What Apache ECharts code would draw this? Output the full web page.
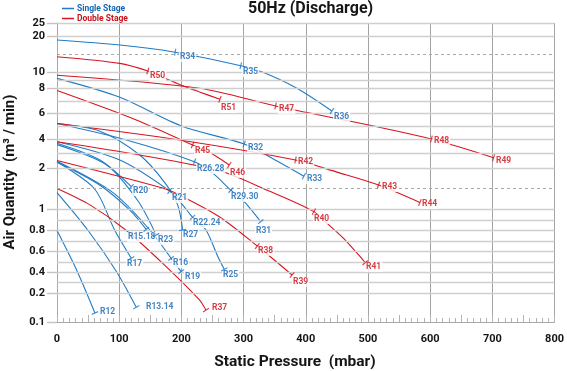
<!DOCTYPE html>
<html><head><meta charset="utf-8">
<script src="https://cdn.jsdelivr.net/npm/echarts@6/dist/echarts.min.js"></script>
<style>html,body{margin:0;padding:0;background:#fff}#c{width:567px;height:371px}</style>
</head><body><div id="c"></div>
<script>
// ---- Y axis ruling (the chart uses a hand-ruled, non-uniform quantity scale) ----
const Y_RULE_VALUES = [0.1,0.2,0.3,0.4,0.5,0.6,0.7,0.8,0.9,1,1.5,2,3,4,5,6,7,8,9,10,15,20,25];
const Y_RULE_UNITS  = [0,29,39.5,49.5,60,70.5,81,91.5,102,113,133.5,154,169,183,196,208.5,221,234,242,250,268,286,299];
const Y_LABEL_VALUES = [0.1,0.2,0.4,0.6,0.8,1,2,4,6,8,10,20,25];
const Y_DASHED_VALUES = [1.5,15];
const X_MIN = 0, X_MAX = 800, X_STEP = 100;

// ---- Single stage (blue) curves: [pressure mbar, air m3/min] ----
const S_R34_R36 = [[0,18.9],[101,17.5],[190,15.5],[295.5,11.75],[330,10.0],[385,8.0],[442,6.2]];
const S_R32_R33 = [[0,9.2],[100,7.3],[200,5.0],[301,3.64],[350,2.55],[397,1.8]];
const S_R26_R31 = [[0,5.2],[110,3.95],[221,2.42],[250,1.88],[279.5,1.46],[301,1.18],[327.5,0.884]];
const S_R27     = [[0,5.2],[69,4.6],[133,2.87],[173,1.65],[194,1.1],[202,0.805]];
const S_R21_R25 = [[0,3.8],[101,2.53],[181,1.44],[202,1.1],[218,0.925],[239.5,0.805],[258,0.56],[269,0.43]];
const S_R20     = [[0,3.7],[69,2.53],[119.5,1.544]];
const S_R15     = [[0,2.4],[69,1.58],[117,0.99],[143.5,0.811]];
const S_R23     = [[0,3.6],[80,2.2],[130,1.2],[159.5,0.757]];
const S_R16_R19 = [[0,2.45],[90,1.4],[150,0.8],[183.5,0.535],[199.5,0.408]];
const S_R17     = [[0,2.4],[60,1.5],[93,0.8],[119.5,0.535]];
const S_R13     = [[0,1.4],[50,0.8],[95.5,0.41],[127.5,0.151]];
const S_R12     = [[0,0.8],[31.5,0.424],[61,0.131]];

// ---- Double stage (red) curves ----
const D_R50_R51 = [[0,14.25],[101,12.4],[146,10.3],[173,9.25],[196,8.48],[229,7.7],[262,7.13]];
const D_R47_R49 = [[0,9.6],[229,7.98],[351.5,6.6],[501,5.08],[602,4.0],[702,2.69]];
const D_R45_R46 = [[0,7.8],[127.5,5.48],[218,3.57],[245,3.05],[277,2.2]];
const D_R42_R44 = [[0,5.2],[197,3.93],[383.5,2.53],[450,1.9],[517,1.585],[583.5,1.16]];
const D_R40_R41 = [[0,3.8],[133,2.87],[263.5,1.92],[339,1.45],[413,0.976],[434,0.87],[460,0.73],[485,0.567],[495.5,0.493]];
const D_R38_R39 = [[0,2.5],[170,1.51],[197,1.34],[261,0.93],[322,0.652],[378,0.375]];
const D_R37     = [[0,1.5],[53,1.1],[111.5,0.8],[173,0.47],[229,0.176],[239.5,0.141]];

// which point of each curve carries a model label
const SINGLE = [
  [S_R34_R36, {2:'R34',3:'R35',6:'R36'}],
  [S_R32_R33, {3:'R32',5:'R33'}],
  [S_R26_R31, {2:'R26.28',4:'R29.30',6:'R31'}],
  [S_R27, {5:'R27'}],
  [S_R21_R25, {2:'R21',4:'R22.24',7:'R25'}],
  [S_R20, {2:'R20'}],
  [S_R15, {3:'R15.18'}],
  [S_R23, {3:'R23'}],
  [S_R16_R19, {3:'R16',4:'R19'}],
  [S_R17, {3:'R17'}],
  [S_R13, {3:'R13.14'}],
  [S_R12, {2:'R12'}]
];
const DOUBLE = [
  [D_R50_R51, {2:'R50',6:'R51'}],
  [D_R47_R49, {2:'R47',4:'R48',5:'R49'}],
  [D_R45_R46, {2:'R45',4:'R46'}],
  [D_R42_R44, {2:'R42',4:'R43',5:'R44'}],
  [D_R40_R41, {4:'R40',8:'R41'}],
  [D_R38_R39, {4:'R38',5:'R39'}],
  [D_R37, {5:'R37'}]
];

// label placement tweaks (text left offset, vertical offset) in px
const LABEL_SHIFT = {
  R34:[4,5],R35:[2,6],R36:[2,6],R50:[2,5],R51:[1,9],R47:[3,3],R48:[2,2],R49:[2,3],
  R32:[3,4],R42:[2,2],R33:[3,3],R45:[2,6],R46:[0,8],'R26.28':[2,7],'R29.30':[0,7],
  R40:[0,7],R31:[-5,9],R20:[1,4],R21:[2,7],'R22.24':[0,6],'R15.18':[-19,8],R23:[1,5],
  R27:[0,5],R17:[-5,6],R16:[1,5],R19:[3,5],R25:[-2,6],R38:[0,5],R39:[0,7],R41:[0,4],
  R43:[3,2],R44:[2,2],R37:[6,-2],R12:[5,-1],'R13.14':[9,0]
};

const BLUE = '#1f7bc6', BLUE_TXT = '#1565b4';
const RED = '#d8141e', RED_TXT = '#c90f18';
const FONT = 'Roboto';

function toU(q){
  const v = Y_RULE_VALUES, u = Y_RULE_UNITS;
  if (q <= v[0]) return u[0];
  for (let i=1;i<v.length;i++){
    if (q <= v[i]) return u[i-1] + (q-v[i-1])/(v[i]-v[i-1])*(u[i]-u[i-1]);
  }
  return u[u.length-1];
}
function labelOf(u){
  let best = 0, d = 1e9;
  Y_RULE_UNITS.forEach((x,i)=>{ if (Math.abs(x-u)<d){d=Math.abs(x-u);best=i;} });
  return String(Y_RULE_VALUES[best]);
}

const chart = echarts.init(document.getElementById('c'), null, {renderer:'canvas'});

function buildSeries(geom){
  const series = [];
  series.push({
    type:'line', data:[], z:1, silent:true,
    markLine:{
      silent:true, symbol:['none','none'], label:{show:false}, animation:false,
      lineStyle:{color:'#cfcfcf', width:1.4, type:'solid'},
      data: Y_RULE_VALUES.filter(v=>v>0.1).map(v=>{
        const dashed = Y_DASHED_VALUES.indexOf(v) >= 0;
        return {yAxis: toU(v), lineStyle: dashed ? {type:[3,3], color:'#a9a9a9', width:1} : {}};
      })
    }
  });
  let k = 0;
  const groups = [[SINGLE,'Single Stage',BLUE,BLUE_TXT],[DOUBLE,'Double Stage',RED,RED_TXT]];
  const labelSeries = [];
  groups.forEach(([curves,name,col,txt])=>{
    const labels = [], ticks = [];
    curves.forEach(([pts,marks])=>{
      series.push({
        type:'line', name, data: pts.map(p=>[p[0], toU(p[1])]),
        smooth:0.3, showSymbol:false, symbol:'none',
        lineStyle:{color:col, width:1.1}, itemStyle:{color:col}, z:2, silent:true
      });
      Object.keys(marks).forEach(idx=>{
        const i = +idx, p = pts[i], lab = marks[idx];
        const sh = LABEL_SHIFT[lab] || [2,5];
        const g = geom ? geom[k] : null;
        labels.push({value:[p[0], toU(p[1])], name:lab,
          label:{offset: g ? g.off : [sh[0]-1, sh[1]]}});
        ticks.push({value:[p[0], toU(p[1])], symbolRotate: g ? g.rot : 0});
        k++;
      });
    });
    labelSeries.push({
      type:'scatter', name, data:labels, z:8, zlevel:1, silent:true,
      symbol:'circle', symbolSize:1, itemStyle:{color:'rgba(0,0,0,0)'},
      label:{show:true, position:'right', distance:0, formatter:p=>p.name,
        color:txt, fontFamily:FONT, fontWeight:'bold', fontSize:8.5,
        backgroundColor:'#fff', padding:[0,1,0,1], lineHeight:10}
    });
    labelSeries.push({
      type:'scatter', name, data:ticks, z:9, zlevel:1, silent:true,
      symbol:'rect', symbolSize:[1.2,7], itemStyle:{color:col}
    });
  });
  return series.concat(labelSeries);
}

const option = {
  animation:false,
  backgroundColor:'#fff',
  title:{text:'50Hz (Discharge)', left:248, top:1, padding:0,
    textStyle:{fontFamily:FONT, fontWeight:'bold', fontSize:16, color:'#151515'}},
  legend:{orient:'vertical', left:57, top:-1, itemGap:1, itemWidth:12, itemHeight:1.5,
    selectedMode:false,
    data:[
      {name:'Single Stage', icon:'rect', itemStyle:{color:BLUE}, textStyle:{color:BLUE_TXT}},
      {name:'Double Stage', icon:'rect', itemStyle:{color:RED}, textStyle:{color:RED_TXT}}
    ],
    textStyle:{fontFamily:FONT, fontWeight:'bold', fontSize:8.5, padding:[0,0,0,-2]}
  },
  grid:{left:57, right:10, top:23, bottom:49, containLabel:false},
  xAxis:[
    {type:'value', min:X_MIN, max:X_MAX, interval:X_STEP,
      axisLine:{lineStyle:{color:'#a8a8a8', width:1}},
      axisTick:{show:false},
      axisLabel:{fontFamily:FONT, fontWeight:'bold', fontSize:11, color:'#151515', margin:12},
      splitLine:{show:true, lineStyle:{color:'#a3a3a3', width:1}}},
    {type:'value', min:X_MIN, max:X_MAX, interval:X_STEP/2, position:'bottom',
      axisLine:{show:false}, axisLabel:{show:false}, splitLine:{show:false},
      axisTick:{show:true, inside:true, length:7, lineStyle:{color:'#b3b3b3'}},
      minorTick:{show:true, splitNumber:5, length:4, lineStyle:{color:'#b3b3b3'}}}
  ],
  yAxis:{type:'value', min:0, max:Y_RULE_UNITS[Y_RULE_UNITS.length-1],
    axisLine:{show:true, lineStyle:{color:'#a8a8a8', width:1}},
    axisTick:{show:true, length:10, customValues:Y_LABEL_VALUES.map(toU), lineStyle:{color:'#c4c4c4', width:1.4}},
    axisLabel:{customValues:Y_LABEL_VALUES.map(toU), formatter:labelOf,
      fontFamily:FONT, fontWeight:'bold', fontSize:11, color:'#151515', margin:12},
    splitLine:{show:false}},
  graphic:[
    {type:'text', x:295, y:362, style:{text:'Static Pressure  (mbar)', font:'bold 15.5px Roboto', fill:'#151515', textAlign:'center', textVerticalAlign:'middle'}},
    {type:'text', x:10, y:172, rotation:Math.PI/2, style:{text:'Air Quantity  (m\u00b3 / min)', font:'bold 15px Roboto', fill:'#151515', textAlign:'center', textVerticalAlign:'middle'}}
  ],
  series: buildSeries(null)
};
chart.setOption(option);

// orient tick marks across each curve and snap label boxes to whole pixels
const geom = [];
const px = p => chart.convertToPixel({xAxisIndex:0, yAxisIndex:0}, [p[0], toU(p[1])]);
[SINGLE, DOUBLE].forEach(curves=>{
  curves.forEach(([pts,marks])=>{
    Object.keys(marks).forEach(idx=>{
      const i = +idx, lab = marks[idx];
      const pa = px(pts[Math.max(i-1,0)]), pb = px(pts[Math.min(i+1,pts.length-1)]);
      const pc = px(pts[i]);
      const ang = Math.atan2(pb[1]-pa[1], pb[0]-pa[0]);
      const sh = LABEL_SHIFT[lab] || [2,5];
      const lx = Math.round(pc[0] + 0.5 + sh[0] - 1) - pc[0] - 0.5;
      const ly = Math.round(pc[1] + sh[1]) - pc[1];
      geom.push({rot: -ang*180/Math.PI, off:[lx, ly]});
    });
  });
});
chart.setOption({series: buildSeries(geom)});
</script></body></html>
